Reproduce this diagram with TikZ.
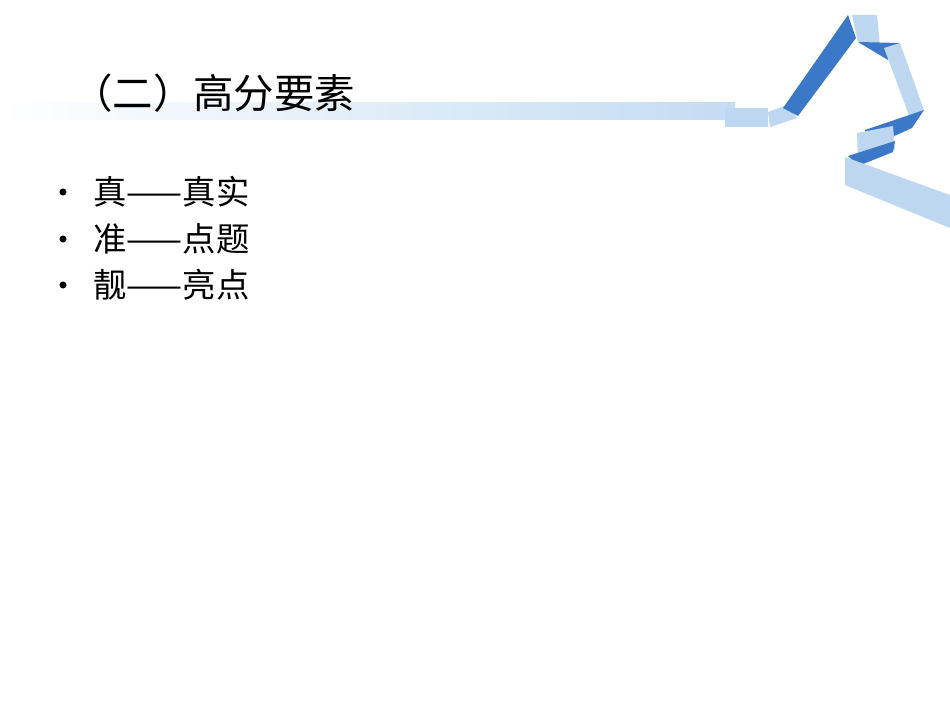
\documentclass[tikz,border=0pt]{standalone}
\usepackage{fontspec}
\setmainfont{Noto Sans CJK SC}
\begin{document}
\begin{tikzpicture}[x=0.02cm,y=-0.02cm,
  lite/.style={fill={rgb,255:red,190;green,215;blue,240}},
  dark/.style={fill={rgb,255:red,60;green,120;blue,200}},
  txt/.style={anchor=west,inner sep=0pt,font=\fontsize{19}{22}\selectfont},
  bul/.style={circle,fill=black,inner sep=0pt,minimum size=4pt}]
\useasboundingbox[fill=white] (0,0) rectangle (950,713);
\shade[left color=white,right color={rgb,255:red,195;green,220;blue,242}] (0,103) rectangle (735,120);
\fill[lite] (725,108) -- (768,108) -- (768,127) -- (725,127) -- cycle;
\fill[lite] (768,112) -- (787,105) -- (797,118) -- (770,127) -- cycle;
\fill[dark] (783,108) -- (848,15) -- (856,38) -- (798,116) -- cycle;
\fill[lite] (852,15) -- (877,15) -- (880,45) -- (858,42) -- cycle;
\fill[dark] (858,42) -- (900,43) -- (888,60) -- cycle;
\fill[lite] (884,48) -- (900,43) -- (924,110) -- (910,118) -- cycle;
\fill[dark] (924,110) -- (865,130) -- (870,147) -- (912,128) -- cycle;
\fill[lite] (857,133) -- (893,126) -- (895,150) -- (858,162) -- cycle;
\fill[dark] (848,156) -- (895,141) -- (893,152) -- (858,166) -- cycle;
\fill[lite] (845,157) -- (950,195) -- (950,228) -- (845,185) -- cycle;
\node[txt,font=\fontsize{23}{26}\selectfont] (title) at (72,93) {（二）高分要素};
\node[bul] (b1) at (63,192) {};
\node[txt] (t1) at (93,192) {真——真实};
\node[bul] (b2) at (63,239) {};
\node[txt] (t2) at (93,239) {准——点题};
\node[bul] (b3) at (63,285) {};
\node[txt] (t3) at (93,285) {靓——亮点};
\end{tikzpicture}
\end{document}
